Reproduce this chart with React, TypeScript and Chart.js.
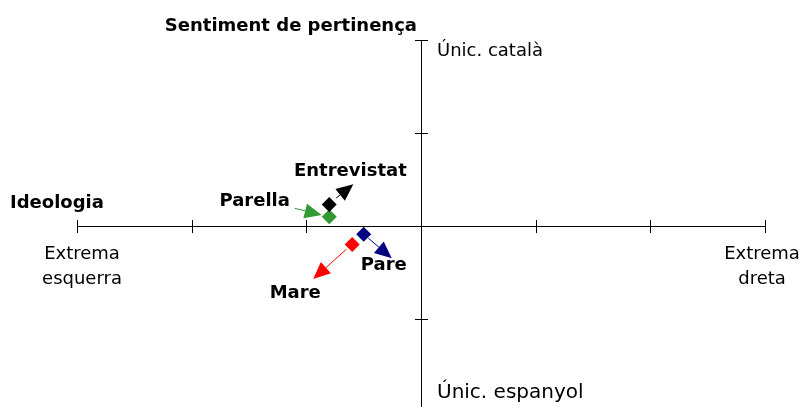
import { useEffect, useRef } from "react";
import { Chart, registerables } from "chart.js";
Chart.register(...registerables);

// Data
const seriesNames = ["Entrevistat", "Parella", "Pare", "Mare"];
const seriesColors = ["#000000", "#339933", "#000080", "#ff0000"];
const pointX = [-0.8, -0.8, -0.5, -0.6];
const pointY = [0.23, 0.1, -0.09, -0.2];
const arrowFromX = [-0.74, -1.1, -0.46, -0.65];
const arrowFromY = [0.3, 0.19, -0.13, -0.25];
const arrowToX = [-0.59, -0.866, -0.255, -0.94];
const arrowToY = [0.45, 0.118, -0.347, -0.57];
const xTicks = [-3, -2, -1, 0, 1, 2, 3];
const yTicks = [-2, -1, 0, 1, 2];
const xAxisTitle = "Ideologia";
const yAxisTitle = "Sentiment de pertinença";
const xMinLabel = ["Extrema", "esquerra"];
const xMaxLabel = ["Extrema", "dreta"];
const yMaxLabel = "Únic. català";
const yMinLabel = "Únic. espanyol";

// label placement relative to arrow ends (pixel offsets), align
const labelAnchor = ["to", "from", "to", "to"];
const labelDx = [-3, -5, -8, -18];
const labelDy = [-13, -7, 7, 14];
const labelAlign: CanvasTextAlign[] = ["center", "right", "center", "center"];

const FONT = "'DejaVu Sans', Verdana, sans-serif";

const drawPlugin = {
  id: "customDraw",
  beforeDatasetsDraw(chart: any) {
    const ctx = chart.ctx as CanvasRenderingContext2D;
    const xs = chart.scales.x;
    const ys = chart.scales.y;
    const x0 = xs.getPixelForValue(0);
    const y0 = ys.getPixelForValue(0);
    ctx.save();
    ctx.strokeStyle = "#000000";
    ctx.lineWidth = 1;
    // horizontal axis
    ctx.beginPath();
    ctx.moveTo(Math.round(xs.getPixelForValue(xTicks[0])), Math.round(y0) + 0.5);
    ctx.lineTo(Math.round(xs.getPixelForValue(xTicks[xTicks.length - 1])) + 1, Math.round(y0) + 0.5);
    ctx.stroke();
    for (const t of xTicks) {
      const px = Math.round(xs.getPixelForValue(t)) + 0.5;
      ctx.beginPath();
      ctx.moveTo(px, Math.round(y0) - 6);
      ctx.lineTo(px, Math.round(y0) + 7);
      ctx.stroke();
    }
    // vertical axis
    ctx.beginPath();
    ctx.moveTo(Math.round(x0) + 0.5, Math.round(ys.getPixelForValue(yTicks[yTicks.length - 1])));
    ctx.lineTo(Math.round(x0) + 0.5, Math.round(ys.getPixelForValue(yTicks[0])) + 1);
    ctx.stroke();
    for (const t of yTicks) {
      const py = Math.round(ys.getPixelForValue(t)) + 0.5;
      ctx.beginPath();
      ctx.moveTo(Math.round(x0) - 6, py);
      ctx.lineTo(Math.round(x0) + 7, py);
      ctx.stroke();
    }
    // arrows
    for (let i = 0; i < seriesNames.length; i++) {
      const fx = xs.getPixelForValue(arrowFromX[i]);
      const fy = ys.getPixelForValue(arrowFromY[i]);
      const tx = xs.getPixelForValue(arrowToX[i]);
      const ty = ys.getPixelForValue(arrowToY[i]);
      const ang = Math.atan2(ty - fy, tx - fx);
      const len = 17;
      const hw = 7.5;
      const bx = tx - Math.cos(ang) * len;
      const by = ty - Math.sin(ang) * len;
      ctx.strokeStyle = seriesColors[i];
      ctx.fillStyle = seriesColors[i];
      ctx.beginPath();
      ctx.moveTo(fx, fy);
      ctx.lineTo(bx, by);
      ctx.stroke();
      ctx.beginPath();
      ctx.moveTo(tx, ty);
      ctx.lineTo(bx + Math.sin(ang) * hw, by - Math.cos(ang) * hw);
      ctx.lineTo(bx - Math.sin(ang) * hw, by + Math.cos(ang) * hw);
      ctx.closePath();
      ctx.fill();
    }
    ctx.restore();
  },
  afterDatasetsDraw(chart: any) {
    const ctx = chart.ctx as CanvasRenderingContext2D;
    const xs = chart.scales.x;
    const ys = chart.scales.y;
    const x0 = xs.getPixelForValue(0);
    const y0 = ys.getPixelForValue(0);
    const xL = xs.getPixelForValue(xTicks[0]);
    const xR = xs.getPixelForValue(xTicks[xTicks.length - 1]);
    const yT = ys.getPixelForValue(yTicks[yTicks.length - 1]);
    ctx.save();
    ctx.fillStyle = "#000000";
    ctx.textBaseline = "middle";
    // series labels
    ctx.font = `bold 18px ${FONT}`;
    for (let i = 0; i < seriesNames.length; i++) {
      const ax = labelAnchor[i] === "to" ? arrowToX[i] : arrowFromX[i];
      const ay = labelAnchor[i] === "to" ? arrowToY[i] : arrowFromY[i];
      ctx.textAlign = labelAlign[i];
      ctx.fillText(seriesNames[i], xs.getPixelForValue(ax) + labelDx[i], ys.getPixelForValue(ay) + labelDy[i]);
    }
    // axis titles
    ctx.textAlign = "left";
    ctx.fillText(xAxisTitle, 10, y0 - 23);
    ctx.textAlign = "right";
    ctx.fillText(yAxisTitle, x0 - 4, yT - 14);
    // end labels
    ctx.font = `18px ${FONT}`;
    ctx.textAlign = "center";
    ctx.fillText(xMinLabel[0], xL + 5, y0 + 28);
    ctx.fillText(xMinLabel[1], xL + 5, y0 + 53);
    ctx.fillText(xMaxLabel[0], xR - 3, y0 + 28);
    ctx.fillText(xMaxLabel[1], xR - 3, y0 + 53);
    ctx.textAlign = "left";
    ctx.fillText(yMaxLabel, x0 + 16, yT + 11);
    ctx.font = `20px ${FONT}`;
    ctx.fillText(yMinLabel, x0 + 16, ys.getPixelForValue(yTicks[0]) - 19);
    ctx.restore();
  },
};

export default function App() {
  const ref = useRef<HTMLCanvasElement | null>(null);
  useEffect(() => {
    if (!ref.current) return;
    const chart = new Chart(ref.current, {
      type: "scatter",
      data: {
        datasets: seriesNames.map((name, i) => ({
          label: name,
          data: [{ x: pointX[i], y: pointY[i] }],
          pointStyle: "rectRot",
          pointRadius: 7.5,
          backgroundColor: seriesColors[i],
          borderColor: seriesColors[i],
          borderWidth: 0,
        })),
      },
      options: {
        responsive: false,
        animation: false,
        layout: { padding: { left: 77, right: 35, top: 40, bottom: 8 } },
        scales: {
          x: { type: "linear", min: -3, max: 3, display: false },
          y: { type: "linear", min: -2, max: 2, display: false },
        },
        plugins: { legend: { display: false }, tooltip: { enabled: false } },
      },
      plugins: [drawPlugin],
    });
    return () => chart.destroy();
  }, []);
  return (
    <div style={{ position: "absolute", left: 0, top: 0, width: 800, height: 420, background: "#fff" }}>
      <canvas ref={ref} width={800} height={420} style={{ width: 800, height: 420 }} />
    </div>
  );
}
